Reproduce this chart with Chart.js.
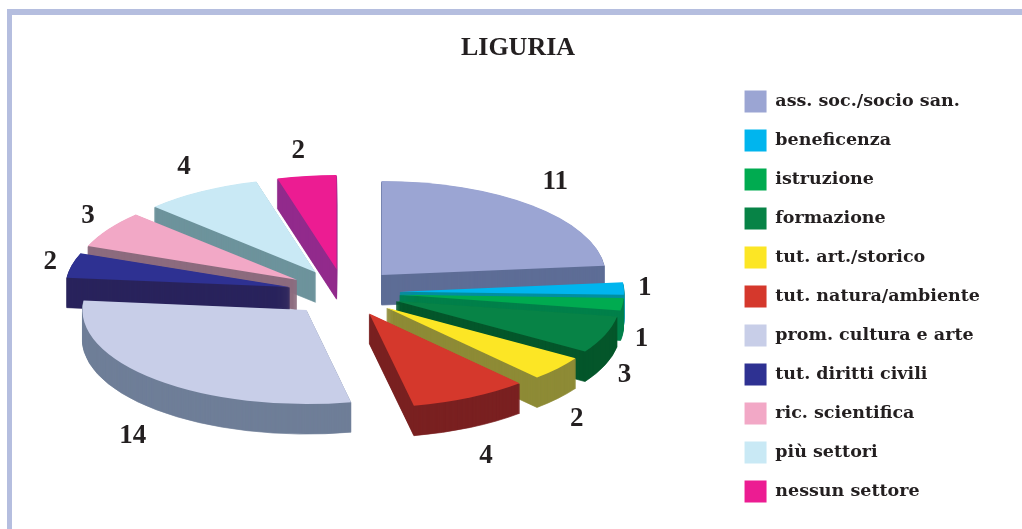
<!DOCTYPE html>
<html>
<head>
<meta charset="utf-8">
<title>LIGURIA</title>
<script src="https://cdn.jsdelivr.net/npm/chart.js@4/dist/chart.umd.min.js"></script>
<style>
  html, body { margin: 0; padding: 0; background: #fff; }
  #wrap { position: relative; width: 1022px; height: 529px; overflow: hidden; }
  #frameTop { position: absolute; left: 7px; top: 9px; right: 0; height: 6px; background: #b5bedf; }
  #frameLeft { position: absolute; left: 7px; top: 9px; bottom: 0; width: 5px; background: #b5bedf; }
  canvas { position: absolute; left: 0; top: 0; }
</style>
</head>
<body>
<div id="wrap">
  <div id="frameTop"></div>
  <div id="frameLeft"></div>
  <canvas id="pie" width="1022" height="529"></canvas>
</div>
<script>
const categories = ["ass. soc./socio san.", "beneficenza", "istruzione", "formazione", "tut. art./storico",
  "tut. natura/ambiente", "prom. cultura e arte", "tut. diritti civili", "ric. scientifica", "più settori", "nessun settore"];
const values = [11, 1, 1, 3, 2, 4, 14, 2, 3, 4, 2];
const topColors = ["#9ba5d3", "#00b5ee", "#00ab50", "#078346", "#fce625", "#d5382c", "#c8cee8", "#2e3192", "#f2a8c6", "#c9e9f5", "#ec1c92"];
const wallColors = ["#5e6d96", "#008fa0", "#00804a", "#04562b", "#8e8b36", "#7a2021", "#6f7e98", "#29235c", "#8c6b7e", "#6d939c", "#922b8c"];

const textColor = "#231f20";
const pieRadius = 224;
const squash = 0.42;     // the tilt of the pie
const explode = 56;      // how far every slice is pulled out
const depth = 30;        // thickness of the slices
const centerX = 344;
const centerY = 292.5;
const labelRadius = 306;
const labelSquash = 0.46;
// small corrections to the value labels, in pixels
const labelNudge = [[6, -6], [-5, 0], [-7, -2], [-5, -2], [-1, 2], [4, 4], [-6, 5], [4, 2], [2, -1], [-4, -4], [-5, -2]];

// draws the arcs tilted and extruded, back slices first
const pie3d = {
  id: "pie3d",
  beforeDatasetDraw(chart, args) {
    const ctx = chart.ctx;
    const arcs = args.meta.data.map((arc, i) => ({ arc, i }));
    const midAngle = a => (a.startAngle + a.endAngle) / 2;
    arcs.sort((a, b) => Math.sin(midAngle(a.arc)) - Math.sin(midAngle(b.arc)));

    arcs.forEach(({ arc, i }) => {
      const mid = midAngle(arc);
      const topOptions = arc.options;
      const place = drop => {
        ctx.save();
        ctx.translate(centerX, centerY + drop);
        ctx.scale(1, squash);
        ctx.translate(Math.cos(mid) * explode - arc.x, Math.sin(mid) * explode - arc.y);
        arc.draw(ctx);
        ctx.restore();
      };
      // thin border on the wall layers so the narrow tips fill solid
      arc.options = Object.assign({}, topOptions, {
        backgroundColor: wallColors[i],
        borderColor: wallColors[i],
        borderWidth: 1,
        borderJoinStyle: "miter"
      });
      for (let d = depth; d > 0; d--) place(d);
      arc.options = topOptions;
      place(0);
    });
    return false;
  },
  afterDatasetsDraw(chart) {
    const ctx = chart.ctx;
    const arcs = chart.getDatasetMeta(0).data;
    ctx.save();
    ctx.font = "bold 27px 'Liberation Serif'";
    ctx.fillStyle = textColor;
    ctx.textAlign = "center";
    ctx.textBaseline = "middle";
    arcs.forEach((arc, i) => {
      const mid = (arc.startAngle + arc.endAngle) / 2;
      const dy = Math.sin(mid);
      const x = centerX + Math.cos(mid) * labelRadius;
      let y = centerY + dy * labelRadius * labelSquash;
      if (dy > 0.05) y += depth + 4;
      ctx.fillText(values[i], x + labelNudge[i][0], y + labelNudge[i][1]);
    });
    ctx.restore();
  }
};

new Chart(document.getElementById("pie"), {
  type: "pie",
  data: {
    labels: categories,
    datasets: [{
      data: values,
      backgroundColor: topColors,
      borderWidth: 0,
      clip: false
    }]
  },
  options: {
    responsive: false,
    animation: false,
    events: [],
    radius: pieRadius,
    layout: { padding: { left: 46, right: 32, top: 33, bottom: -31 } },
    plugins: {
      title: {
        display: true,
        text: "LIGURIA",
        color: textColor,
        font: { family: "'Liberation Serif'", size: 26, weight: "bold" },
        padding: { top: 0, bottom: 10 }
      },
      legend: {
        position: "right",
        labels: {
          color: textColor,
          font: { family: "'DejaVu Serif'", size: 17.5, weight: "bold" },
          boxWidth: 22,
          boxHeight: 22,
          padding: 17
        }
      },
      tooltip: { enabled: false }
    }
  },
  plugins: [pie3d]
});
</script>
</body>
</html>
